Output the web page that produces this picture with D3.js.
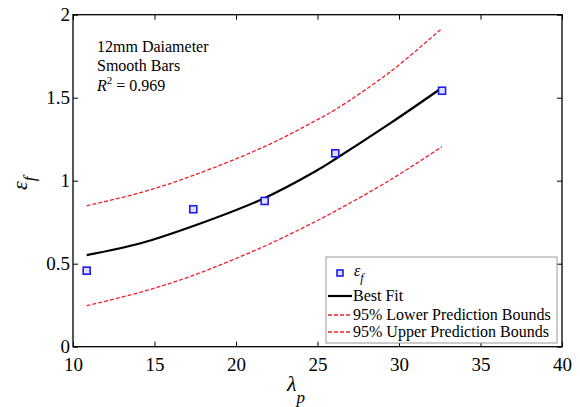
<!DOCTYPE html>
<html><head><meta charset="utf-8">
<script src="https://cdn.jsdelivr.net/npm/d3@7"></script>
<style>body{margin:0;background:#fff;}</style></head>
<body><svg id="c" width="580" height="407"></svg>
<script>
// Measured points
const lambdaP = [10.84, 17.38, 21.76, 26.09, 32.64];
const epsF = [0.458, 0.828, 0.878, 1.165, 1.542];
// Curves
const lambdaFit = [10.84, 14.21, 17.38, 21.74, 24.85, 26.12, 29.45, 32.64];
const bestFit = [0.552, 0.625, 0.727, 0.895, 1.055, 1.132, 1.345, 1.560];
const lowerBound = [0.247, 0.330, 0.430, 0.605, 0.753, 0.818, 1.004, 1.205];
const upperBound = [0.849, 0.930, 1.032, 1.205, 1.360, 1.430, 1.655, 1.918];
const xTicks = [10, 15, 20, 25, 30, 35, 40];
const yTicks = [0, 0.5, 1, 1.5, 2];
const annotation = ["12mm Daiameter", "Smooth Bars"];
const r2 = "0.969";
const legendLabels = ["Best Fit", "95% Lower Prediction Bounds", "95% Upper Prediction Bounds"];

const FONT = "Liberation Serif";
const svg = d3.select("#c");
const L = 73, R = 562, T = 14.7, B = 346.7;
const x = d3.scaleLinear().domain([10, 40]).range([L, R]);
const y = d3.scaleLinear().domain([0, 2]).range([B, T]);

const fmt = d => String(d);
const axStyle = g => {
  g.attr("font-family", null).attr("font-size", null);
  g.selectAll("text").attr("font-size", 19).attr("fill", "#000");
  g.selectAll("line").attr("stroke", "#000").attr("stroke-width", 1);
  g.select(".domain").remove();
};
svg.append("g").attr("transform", `translate(0,${B})`)
  .call(d3.axisBottom(x).tickValues(xTicks).tickFormat(fmt).tickSize(-5).tickSizeOuter(0).tickPadding(11)).call(axStyle);
svg.append("g").attr("transform", `translate(0,${T})`)
  .call(d3.axisTop(x).tickValues(xTicks).tickFormat("").tickSize(-5).tickSizeOuter(0)).call(axStyle);
svg.append("g").attr("transform", `translate(${L},0)`)
  .call(d3.axisLeft(y).tickValues(yTicks).tickFormat(fmt).tickSize(-5).tickSizeOuter(0).tickPadding(3)).call(axStyle);
svg.append("g").attr("transform", `translate(${R},0)`)
  .call(d3.axisRight(y).tickValues(yTicks).tickFormat("").tickSize(-5).tickSizeOuter(0)).call(axStyle);

svg.append("rect").attr("x", L).attr("y", T).attr("width", R - L).attr("height", B - T)
  .attr("fill", "none").attr("stroke", "#000").attr("stroke-width", 1.3);

const line = d3.line().x(d => x(d[0])).y(d => y(d[1])).curve(d3.curveCatmullRom);
const mk = arr => lambdaFit.map((l, i) => [l, arr[i]]);
svg.append("path").attr("d", line(mk(upperBound))).attr("fill", "none").attr("stroke", "#f0202a").attr("stroke-width", 1.3).attr("stroke-dasharray", "4,2");
svg.append("path").attr("d", line(mk(lowerBound))).attr("fill", "none").attr("stroke", "#f0202a").attr("stroke-width", 1.3).attr("stroke-dasharray", "4,2");
svg.append("path").attr("d", line(mk(bestFit))).attr("fill", "none").attr("stroke", "#000").attr("stroke-width", 2.2);

svg.selectAll("rect.pt").data(lambdaP.map((l, i) => [l, epsF[i]])).enter().append("rect")
  .attr("class", "pt").attr("x", d => x(d[0]) - 3.5).attr("y", d => y(d[1]) - 3.5)
  .attr("width", 7).attr("height", 7).attr("fill", "#dfe0ff").attr("stroke", "#1c1cf0").attr("stroke-width", 1.6);

// annotation
const ann = svg.append("g");
ann.append("text").attr("x", 97).attr("y", 52).attr("font-size", 16).text(annotation[0]);
ann.append("text").attr("x", 97).attr("y", 71).attr("font-size", 16).text(annotation[1]);
const t3 = ann.append("text").attr("x", 97).attr("y", 91).attr("font-size", 16);
t3.append("tspan").attr("font-style", "italic").text("R");
t3.append("tspan").attr("font-size", 11).attr("dy", -7).text("2");
t3.append("tspan").attr("dy", 7).text(" = " + r2);

// axis labels
const xl = svg.append("text").attr("x", 287).attr("y", 391).attr("font-size", 22);
xl.append("tspan").attr("font-style", "italic").text("λ");
xl.append("tspan").attr("font-size", 17).attr("font-style", "italic").attr("dy", 12).text("p");

const yl = svg.append("text").attr("transform", "translate(27,190) rotate(-90)").attr("font-size", 22);
yl.append("tspan").attr("font-style", "italic").text("ε");
yl.append("tspan").attr("font-size", 17).attr("font-style", "italic").attr("dy", 8).text("f");

// legend
const lg = svg.append("g");
lg.append("rect").attr("x", 326).attr("y", 257).attr("width", 231).attr("height", 86)
  .attr("fill", "#fff").attr("stroke", "#999").attr("stroke-width", 1);
lg.append("rect").attr("x", 337).attr("y", 270).attr("width", 6).attr("height", 6)
  .attr("fill", "#dfe0ff").attr("stroke", "#1c1cf0").attr("stroke-width", 1.6);
const le = lg.append("text").attr("x", 354).attr("y", 276).attr("font-size", 16);
le.append("tspan").attr("font-style", "italic").text("ε");
le.append("tspan").attr("font-size", 12).attr("font-style", "italic").attr("dy", 6).text("f");
const rows = [296, 315, 332];
const styles = [{c: "#000", w: 2.2, d: null}, {c: "#f0202a", w: 1.3, d: "4,2"}, {c: "#f0202a", w: 1.3, d: "4,2"}];
legendLabels.forEach((lab, i) => {
  lg.append("line").attr("x1", 328).attr("x2", 352).attr("y1", rows[i]).attr("y2", rows[i])
    .attr("stroke", styles[i].c).attr("stroke-width", styles[i].w).attr("stroke-dasharray", styles[i].d);
  lg.append("text").attr("x", 353).attr("y", rows[i] + 5).attr("font-size", 16).text(lab);
});

svg.selectAll("text, tspan").attr("font-family", FONT).style("font-family", FONT);
</script></body></html>
